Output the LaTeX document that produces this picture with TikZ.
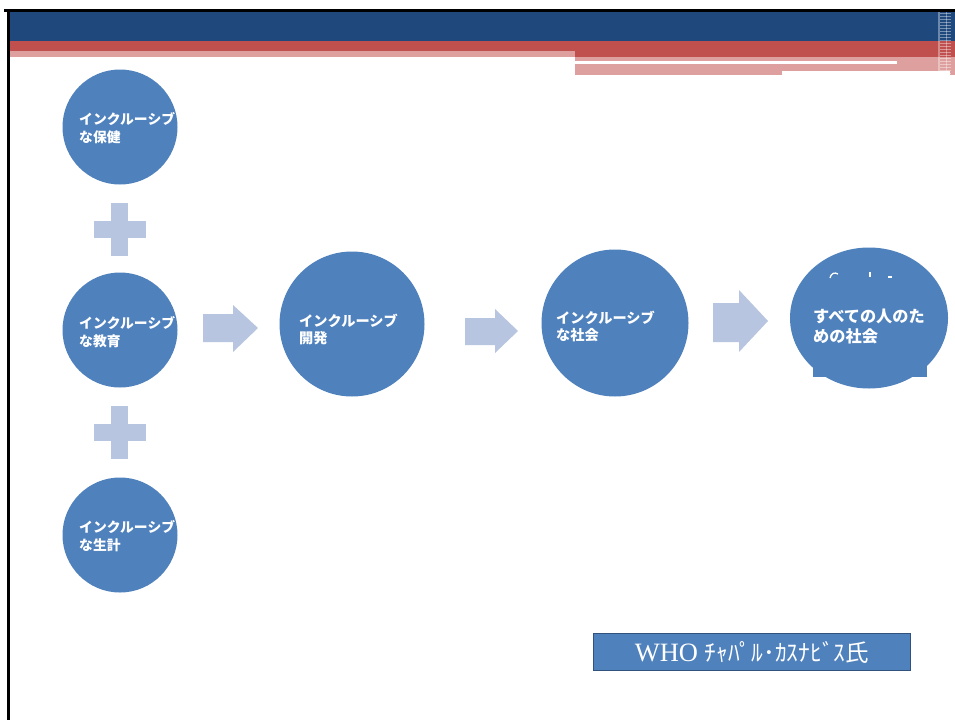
\documentclass[tikz,border=0pt]{standalone}
\usepackage{fontspec}
\setmainfont{Liberation Serif}
\newfontfamily\cjk{Noto Sans CJK JP}
\usetikzlibrary{shapes.geometric}
\definecolor{cblue}{RGB}{79,129,189}
\definecolor{cborder}{RGB}{48,82,125}
\definecolor{dblue}{RGB}{31,73,125}
\definecolor{cred}{RGB}{192,80,77}
\definecolor{cpink}{RGB}{222,160,158}
\definecolor{clight}{RGB}{183,197,224}
\tikzset{
  circ/.style={circle, fill=cblue, inner sep=0pt},
  ctext/.style={text=white, font=\cjk\bfseries\fontsize{13.8}{18}\selectfont, align=left, anchor=north west, inner sep=0pt},
  ctextb/.style={ctext, font=\cjk\bfseries\fontsize{14.2}{17}\selectfont},
  ctextc/.style={ctext, font=\cjk\bfseries\fontsize{16.2}{20}\selectfont},
  blockarrow/.style={fill=clight, draw=none},
}
\begin{document}
\begin{tikzpicture}[x=1pt,y=-1pt]
\useasboundingbox (0,0) rectangle (955,720);
\fill[white] (0,0) rectangle (955,720);
% header bands
\fill[black] (4,9) rectangle (955,12);
\fill[black] (7,9) rectangle (10,720);
\fill[dblue] (10,12) rectangle (955,41);
\fill[cred] (10,41) rectangle (575,51);
\fill[cpink] (10,51) rectangle (575,57);
\fill[cred] (575,41) rectangle (955,57);
\fill[cpink] (575,57) rectangle (955,75);
\fill[white] (575,61) rectangle (897,64);
\fill[white] (782,71) rectangle (950,75);
% right decorative strip
\foreach \yy in {13,16,...,73} {
  \fill[white, opacity=0.4] (940,\yy) rectangle (951,\yy+1);
}
\fill[white, opacity=0.35] (938,12) rectangle (940,75);
\fill[white, opacity=0.35] (946,12) rectangle (947,75);

% left column circles
\node[circ, minimum size=115pt] (health) at (120,127) {};
\node[circ, minimum size=115pt] (edu) at (120,330) {};
\node[circ, minimum size=115pt] (live) at (120,535) {};
\node[ctext] (healtht) at (79,112) {インクルーシブ\\な保健};
\node[ctext] (edut) at (79,316) {インクルーシブ\\な教育};
\node[ctext] (livet) at (79,520) {インクルーシブ\\な生計};

% plus signs
\foreach \cy/\nm in {230/plusa,433/plusb} {
  \fill[clight] (111,\cy-27) rectangle (128,\cy+26);
  \fill[clight] (94,\cy-9) rectangle (146,\cy+8);
  \coordinate (\nm) at (120,\cy);
}

% development
\node[circ, minimum size=145pt] (dev) at (352,324) {};
\node[ctextb] (devt) at (299,314) {インクルーシブ\\開発};

% society
\node[circ, minimum size=147pt] (soc) at (615,323) {};
\node[ctextb] (soct) at (556,311) {インクルーシブ\\な社会};

% society for all
\node[ellipse, fill=cblue, minimum width=158pt, minimum height=141pt, inner sep=0pt] (all) at (869,318) {};
\fill[cblue] (813,362) rectangle (927,377);
\node[ctextc] (allt) at (813,309) {すべての人のた\\めの社会};
\draw[white, line width=1.3pt] (830,278) .. controls (831,273) and (835,272) .. (838,274);
\fill[white] (869,272) rectangle (871,277);
\fill[white] (888,276) rectangle (892,277.5);

% block arrows
\fill[blockarrow] (203,314) -- (233,314) -- (233,305) -- (258,328) -- (233,352) -- (233,342) -- (203,342) -- cycle;
\fill[blockarrow] (465,318) -- (495,318) -- (495,309) -- (518,331) -- (495,353) -- (495,345) -- (465,345) -- cycle;
\fill[blockarrow] (713,303) -- (739,303) -- (739,290) -- (768,321) -- (739,352) -- (739,342) -- (713,342) -- cycle;
\coordinate (a1) at (230,328);
\coordinate (a2) at (491,331);
\coordinate (a3) at (740,321);

% WHO box
\node[draw=cborder, line width=1.8pt, fill=cblue, minimum width=317pt, minimum height=37pt, inner sep=0pt,
      text=white, font=\fontsize{26.5}{28}\selectfont] (who) at (752,652) {WHO {\cjk\fontsize{23.5}{28}\selectfont ﾁｬﾊﾟﾙ･ｶｽﾅﾋﾞｽ氏}};
\end{tikzpicture}
\end{document}
